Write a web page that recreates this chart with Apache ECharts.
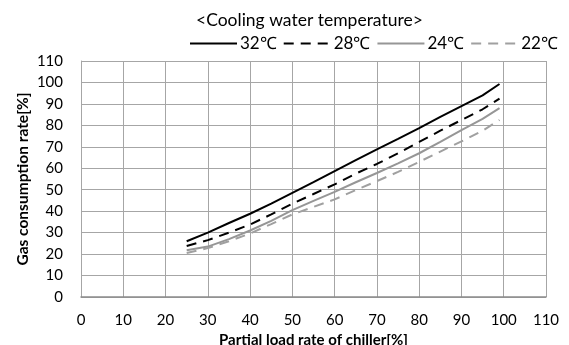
<!DOCTYPE html>
<html>
<head>
<meta charset="utf-8">
<script src="https://cdn.jsdelivr.net/npm/echarts@6/dist/echarts.min.js"></script>
<style>
  html, body { margin: 0; padding: 0; background: #fff; }
  #chart { width: 569px; height: 345px; }
</style>
</head>
<body>
<div id="chart"></div>
<script>
const loadRate = [25, 30, 35, 40, 45, 50, 55, 60, 65, 70, 75, 80, 85, 90, 95, 99];
const temp32 = [26, 30, 34.5, 38.8, 43.5, 48.5, 53.5, 58.7, 63.8, 68.8, 73.7, 78.7, 84, 89, 94, 99.3];
const temp28 = [23.8, 26.5, 30, 33.8, 38.5, 43.5, 48, 52.5, 57.5, 62, 67, 72.3, 77.5, 82.5, 87.5, 92.5];
const temp24 = [21.8, 23.5, 27, 31, 35.5, 40.5, 44.8, 49, 53.5, 57.8, 62.3, 67, 72.3, 77.8, 83, 88];
const temp22 = [20.5, 22.8, 26, 29.6, 34, 38.5, 42, 45.5, 49.8, 54, 58.3, 63, 67.8, 72.5, 77.5, 82.5];
const axisTicks = [0, 110, 10];

const font = 'Lato, "Open Sans", sans-serif';
const pairs = (ys) => loadRate.map((x, i) => [x, ys[i]]);

const chart = echarts.init(document.getElementById('chart'));

const line = (name, ys, color, dash) => ({
  name: name,
  type: 'line',
  data: pairs(ys),
  symbol: 'none',
  lineStyle: { color: color, width: 2, type: dash ? [10, 7] : 'solid' },
  itemStyle: { color: 'transparent' },
  animation: false
});

chart.setOption({
  title: {
    text: '<Cooling water temperature>',
    left: 191,
    top: 6,
    textStyle: { color: '#000', fontSize: 17.5, fontWeight: 'normal', fontFamily: font }
  },
  legend: {
    left: 184,
    top: 30,
    itemWidth: 47,
    itemHeight: 14,
    itemGap: 6,
    textStyle: { color: '#000', fontSize: 17, fontFamily: font, padding: [0, 0, 0, -2] },
    data: ['32℃', '28℃', '24℃', '22℃']
  },
  grid: { left: 81, right: 23, top: 61, bottom: 48, outerBoundsMode: 'none' },
  xAxis: {
    type: 'value',
    min: axisTicks[0],
    max: axisTicks[1],
    interval: axisTicks[2],
    name: 'Partial load rate of chiller[%]',
    nameLocation: 'middle',
    nameGap: 30,
    nameTextStyle: { color: '#000', fontSize: 15, fontWeight: 'bold', fontFamily: font },
    axisLine: { lineStyle: { color: '#8c8c8c', width: 1.5 } },
    axisTick: { show: false },
    axisLabel: { color: '#000', fontSize: 15, fontFamily: font, margin: 16 },
    splitLine: { lineStyle: { color: '#a6a6a6', width: 1 } }
  },
  yAxis: {
    type: 'value',
    min: axisTicks[0],
    max: axisTicks[1],
    interval: axisTicks[2],
    name: 'Gas consumption rate[%]',
    nameLocation: 'middle',
    nameGap: 50,
    nameMoveOverlap: false,
    nameTextStyle: { color: '#000', fontSize: 15.5, fontWeight: 'bold', fontFamily: font },
    axisLine: { show: true, lineStyle: { color: '#a6a6a6', width: 1 } },
    axisTick: { show: false },
    axisLabel: { color: '#000', fontSize: 15, fontFamily: font, margin: 18 },
    splitLine: { lineStyle: { color: '#a6a6a6', width: 1 } }
  },
  series: [
    line('32℃', temp32, '#000', false),
    line('28℃', temp28, '#000', true),
    line('24℃', temp24, '#969696', false),
    line('22℃', temp22, '#a0a0a0', true)
  ]
});
</script>
</body>
</html>
